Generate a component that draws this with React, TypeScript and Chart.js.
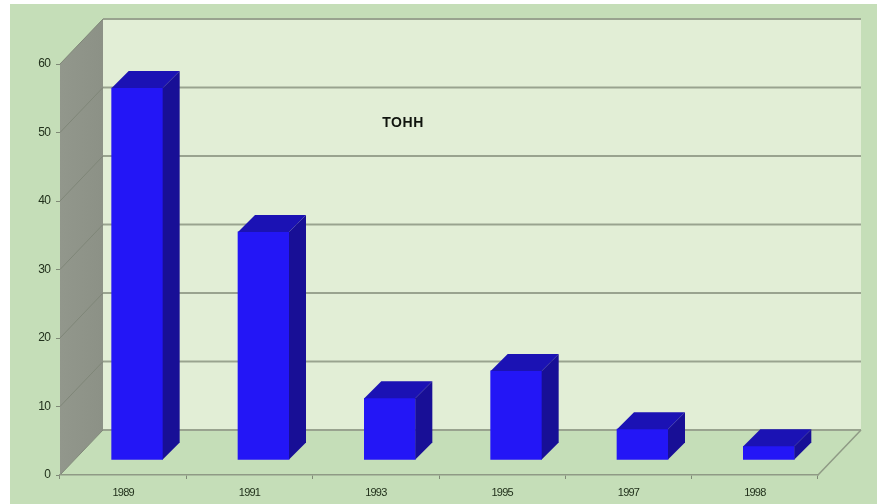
import { useEffect, useRef } from "react";
import { Chart, registerables } from "chart.js";

Chart.register(...registerables);

const years = ["1989", "1991", "1993", "1995", "1997", "1998"];
const tonnes = [54.3, 33.3, 9, 13, 4.5, 2];
const yTicks = [0, 10, 20, 30, 40, 50, 60];
const caption = "ТОНН";

// Oblique projection of the plot box and of the bars standing inside it.
const WALL_DX = 43;
const WALL_DY = -45;
const BAR_SHIFT_X = 14;
const BAR_SHIFT_Y = -15;
const BAR_DEPTH = 17;

const PANEL = "#c5deb8";

const box3d = {
  id: "box3d",
  beforeDraw(chart: any) {
    const { ctx, width, height, chartArea: a, scales } = chart;
    const poly = (pts: number[][], fill: any) => {
      ctx.beginPath();
      pts.forEach(([x, y], i) => (i ? ctx.lineTo(x, y) : ctx.moveTo(x, y)));
      ctx.closePath();
      ctx.fillStyle = fill;
      ctx.fill();
    };
    const line = (x1: number, y1: number, x2: number, y2: number, color: string, w: number) => {
      ctx.beginPath();
      ctx.moveTo(x1, y1);
      ctx.lineTo(x2, y2);
      ctx.strokeStyle = color;
      ctx.lineWidth = w;
      ctx.stroke();
    };
    // condensed digit spacing for the axis labels
    ctx.letterSpacing = "-0.8px";
    ctx.save();
    ctx.fillStyle = "#ffffff";
    ctx.fillRect(0, 0, width, height);
    ctx.fillStyle = PANEL;
    ctx.fillRect(10, 4, width - 10, height - 4);

    const L = a.left, R = a.right, T = a.top, B = a.bottom;
    // back wall
    poly([[L + WALL_DX, T + WALL_DY], [R + WALL_DX, T + WALL_DY], [R + WALL_DX, B + WALL_DY], [L + WALL_DX, B + WALL_DY]], "#e2eed6");
    // side wall
    const side = ctx.createLinearGradient(L, 0, L + WALL_DX, 0);
    side.addColorStop(0, "#92978c");
    side.addColorStop(1, "#8c9186");
    poly([[L, T], [L + WALL_DX, T + WALL_DY], [L + WALL_DX, B + WALL_DY], [L, B]], side);
    // floor
    poly([[L, B], [L + WALL_DX, B + WALL_DY], [R + WALL_DX, B + WALL_DY], [R, B]], PANEL);

    // gridlines run across the back wall and fold down the side wall
    for (const v of yTicks) {
      const y = scales.y.getPixelForValue(v);
      line(L + WALL_DX, y + WALL_DY, R + WALL_DX, y + WALL_DY, "#99a38f", 2);
      line(L, y, L + WALL_DX, y + WALL_DY, "#7f8678", 1);
    }
    line(R, B, R + WALL_DX, B + WALL_DY, "#8f9a85", 1.5);
    ctx.restore();
  },
  beforeDatasetsDraw(chart: any) {
    chart.ctx.save();
    chart.ctx.translate(BAR_SHIFT_X, BAR_SHIFT_Y);
  },
  afterDatasetsDraw(chart: any) {
    const { ctx } = chart;
    for (const bar of chart.getDatasetMeta(0).data) {
      const { x, y, base, width } = bar.getProps(["x", "y", "base", "width"], true);
      const l = x - width / 2, r = x + width / 2;
      // top face
      ctx.beginPath();
      ctx.moveTo(l, y);
      ctx.lineTo(l + BAR_DEPTH, y - BAR_DEPTH);
      ctx.lineTo(r + BAR_DEPTH, y - BAR_DEPTH);
      ctx.lineTo(r, y);
      ctx.closePath();
      ctx.fillStyle = "#1b12b4";
      ctx.fill();
      // right face
      ctx.beginPath();
      ctx.moveTo(r, y);
      ctx.lineTo(r + BAR_DEPTH, y - BAR_DEPTH);
      ctx.lineTo(r + BAR_DEPTH, base - BAR_DEPTH);
      ctx.lineTo(r, base);
      ctx.closePath();
      ctx.fillStyle = "#180f96";
      ctx.fill();
    }
    ctx.restore();
  },
  afterDraw(chart: any) {
    const { ctx } = chart;
    ctx.save();
    ctx.letterSpacing = "0.6px";
    ctx.font = "bold 14px 'Liberation Sans', sans-serif";
    ctx.fillStyle = "#10140e";
    ctx.textAlign = "center";
    ctx.textBaseline = "middle";
    ctx.fillText(caption, 403, 123);
    ctx.restore();
  },
};

export default function App() {
  const ref = useRef<HTMLCanvasElement>(null);

  useEffect(() => {
    document.body.style.margin = "0";
    const chart = new Chart(ref.current!, {
      type: "bar",
      data: {
        labels: years,
        datasets: [
          {
            data: tonnes,
            backgroundColor: "#2316f6",
            barThickness: 51,
          },
        ],
      },
      options: {
        animation: false,
        responsive: false,
        layout: { padding: { left: 0, right: 59, top: 64, bottom: 0 } },
        plugins: { legend: { display: false }, tooltip: { enabled: false } },
        scales: {
          x: {
            afterFit: (s: any) => {
              s.height = 29;
            },
            grid: {
              drawOnChartArea: false,
              color: "#7f8a76",
              tickLength: 4,
              lineWidth: 1,
            },
            border: { color: "#8f9a85", width: 1.5 },
            ticks: {
              color: "#22311c",
              font: { family: "'Liberation Sans', sans-serif", size: 11 },
              padding: 7,
              maxRotation: 0,
            },
          },
          y: {
            min: 0,
            max: 60,
            afterFit: (s: any) => {
              s.width = 60;
            },
            afterBuildTicks: (s: any) => {
              s.ticks = yTicks.map((value) => ({ value }));
            },
            grid: {
              drawOnChartArea: false,
              color: "#7f8a76",
              tickLength: 4,
            },
            border: { display: false },
            ticks: {
              color: "#22311c",
              font: { family: "'Liberation Sans', sans-serif", size: 12 },
              padding: 6,
            },
          },
        },
      },
      plugins: [box3d],
    } as any);
    return () => chart.destroy();
  }, []);

  return <canvas ref={ref} width={877} height={504} style={{ display: "block" }} />;
}
